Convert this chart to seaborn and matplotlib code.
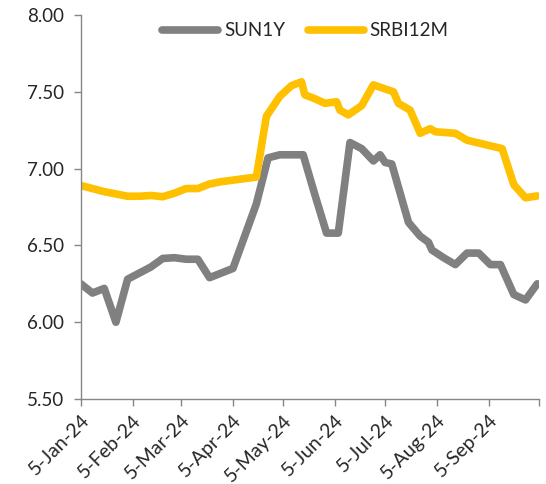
import pandas as pd
import numpy as np
import matplotlib
matplotlib.use("Agg")
import matplotlib.pyplot as plt
import seaborn as sns

# data
sun_dates = ["2024-01-05", "2024-01-12", "2024-01-19", "2024-01-26", "2024-02-02",
             "2024-02-09", "2024-02-16", "2024-02-23", "2024-03-01", "2024-03-08",
             "2024-03-15", "2024-03-22", "2024-03-29", "2024-04-05", "2024-04-12",
             "2024-04-19", "2024-04-26", "2024-05-03", "2024-05-10", "2024-05-17",
             "2024-05-24", "2024-05-31", "2024-06-07", "2024-06-14", "2024-06-21",
             "2024-06-28", "2024-07-02", "2024-07-05", "2024-07-09", "2024-07-19",
             "2024-07-26", "2024-07-31", "2024-08-02", "2024-08-09", "2024-08-16",
             "2024-08-23", "2024-08-30", "2024-09-06", "2024-09-12", "2024-09-20",
             "2024-09-27", "2024-10-04"]
sun_vals = [6.25, 6.19, 6.22, 6.00, 6.28,
            6.32, 6.36, 6.415, 6.42, 6.41,
            6.41, 6.29, 6.32, 6.35, 6.56,
            6.77, 7.07, 7.09, 7.09, 7.09,
            6.83, 6.58, 6.58, 7.17, 7.13,
            7.05, 7.09, 7.04, 7.03, 6.65,
            6.56, 6.52, 6.47, 6.42, 6.375,
            6.45, 6.45, 6.375, 6.375, 6.18,
            6.145, 6.25]

srbi_dates = ["2024-01-05", "2024-01-12", "2024-01-19", "2024-01-26", "2024-02-02",
              "2024-02-09", "2024-02-16", "2024-02-23", "2024-03-01", "2024-03-08",
              "2024-03-15", "2024-03-22", "2024-03-29", "2024-04-05", "2024-04-12",
              "2024-04-19", "2024-04-25", "2024-05-03", "2024-05-10", "2024-05-16",
              "2024-05-18", "2024-05-24", "2024-05-30", "2024-06-06", "2024-06-08",
              "2024-06-13", "2024-06-21", "2024-06-28", "2024-07-10", "2024-07-13",
              "2024-07-20", "2024-07-26", "2024-08-01", "2024-08-04", "2024-08-16",
              "2024-08-23", "2024-09-13", "2024-09-20", "2024-09-27", "2024-10-04"]
srbi_vals = [6.89, 6.87, 6.85, 6.835, 6.82,
             6.82, 6.825, 6.817, 6.84, 6.87,
             6.87, 6.90, 6.915, 6.925, 6.935,
             6.945, 7.34, 7.47, 7.54, 7.565,
             7.48, 7.455, 7.425, 7.435, 7.38,
             7.35, 7.41, 7.545, 7.50, 7.425,
             7.38, 7.23, 7.26, 7.24, 7.23,
             7.185, 7.13, 6.895, 6.81, 6.822]

series_names = ["SUN1Y", "SRBI12M"]
colors = ["#808080", "#FFC000"]

tick_dates = ["2024-01-05", "2024-02-05", "2024-03-05", "2024-04-05", "2024-05-05",
              "2024-06-05", "2024-07-05", "2024-08-05", "2024-09-05", "2024-10-05"]
tick_labels = ["5-Jan-24", "5-Feb-24", "5-Mar-24", "5-Apr-24", "5-May-24",
               "5-Jun-24", "5-Jul-24", "5-Aug-24", "5-Sep-24", ""]
y_ticks = [5.5, 6.0, 6.5, 7.0, 7.5, 8.0]

d1 = pd.DataFrame({"date": pd.to_datetime(sun_dates), "value": sun_vals, "series": series_names[0]})
d2 = pd.DataFrame({"date": pd.to_datetime(srbi_dates), "value": srbi_vals, "series": series_names[1]})
df = pd.concat([d1, d2], ignore_index=True)

sns.set_style("white")
plt.rcParams["font.family"] = ["Lato", "DejaVu Sans"]

fig = plt.figure(figsize=(5.46, 4.84), dpi=100)
ax = fig.add_axes([0.148, 0.1756, 0.839, 0.7934])

sns.lineplot(data=df, x="date", y="value", hue="series", hue_order=series_names,
             palette=colors, linewidth=5.5, ax=ax, legend=False,
             solid_capstyle="round", solid_joinstyle="round", estimator=None, sort=False)

ax.set_xlim(pd.Timestamp(tick_dates[0]), pd.Timestamp(tick_dates[-1]))
ax.set_ylim(5.5, 8.0)
ax.set_yticks(y_ticks)
ax.set_yticklabels([f"{v:.2f}" for v in y_ticks], fontsize=13.5, color="#262626")
ax.set_xticks(pd.to_datetime(tick_dates))
ax.set_xticklabels(tick_labels, rotation=45, ha="right", rotation_mode="anchor",
                   fontsize=14, color="#262626")
ax.set_xlabel("")
ax.set_ylabel("")

for side in ["top", "right"]:
    ax.spines[side].set_visible(False)
for side in ["left", "bottom"]:
    ax.spines[side].set_color("#868686")
    ax.spines[side].set_linewidth(1.0)
ax.tick_params(axis="both", which="major", length=5, width=1.0, color="#868686",
               direction="out", bottom=True, left=True)
ax.tick_params(axis="x", pad=4)
ax.tick_params(axis="y", pad=7)

handles = [plt.Line2D([], [], color=c, linewidth=5.5, solid_capstyle="round") for c in colors]
ax.legend(handles, series_names, loc="upper center", bbox_to_anchor=(0.49, 1.025),
          ncol=2, frameon=False, fontsize=13.5, handlelength=3.0, columnspacing=1.2,
          handletextpad=0.3)

plt.savefig("out.png", dpi=100)
